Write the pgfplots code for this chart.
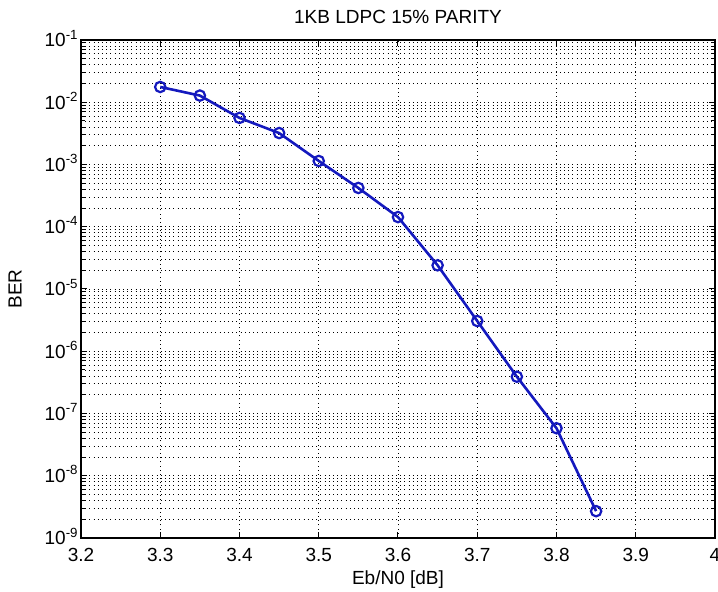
\documentclass[border=0pt]{standalone}
\usepackage{pgfplots}
\pgfplotsset{compat=1.18}
\usepackage{fontspec}
\setmainfont{Liberation Sans}

\definecolor{berblue}{RGB}{20,25,190}

\pgfplotstableread{
ebn0  ber
3.30  1.76e-2
3.35  1.28e-2
3.40  5.6e-3
3.45  3.2e-3
3.50  1.14e-3
3.55  4.2e-4
3.60  1.43e-4
3.65  2.4e-5
3.70  3.06e-6
3.75  3.9e-7
3.80  5.8e-8
3.85  2.7e-9
}\berdata

\begin{document}
\begin{tikzpicture}
\useasboundingbox (-40.5pt,-27pt) rectangle (318.5pt,269pt);
\begin{axis}[
    scale only axis,
    width=317pt,
    height=249pt,
    ymode=log,
    xmin=3.2, xmax=4,
    ymin=1e-9, ymax=1e-1,
    xtick={3.2,3.3,3.4,3.5,3.6,3.7,3.8,3.9,4},
    ytick={1e-9,1e-8,1e-7,1e-6,1e-5,1e-4,1e-3,1e-2,1e-1},
    yticklabels={10\textsuperscript{-9},10\textsuperscript{-8},10\textsuperscript{-7},10\textsuperscript{-6},10\textsuperscript{-5},10\textsuperscript{-4},10\textsuperscript{-3},10\textsuperscript{-2},10\textsuperscript{-1}},
    minor ytick={2e-9,3e-9,4e-9,5e-9,6e-9,7e-9,8e-9,9e-9,
                 2e-8,3e-8,4e-8,5e-8,6e-8,7e-8,8e-8,9e-8,
                 2e-7,3e-7,4e-7,5e-7,6e-7,7e-7,8e-7,9e-7,
                 2e-6,3e-6,4e-6,5e-6,6e-6,7e-6,8e-6,9e-6,
                 2e-5,3e-5,4e-5,5e-5,6e-5,7e-5,8e-5,9e-5,
                 2e-4,3e-4,4e-4,5e-4,6e-4,7e-4,8e-4,9e-4,
                 2e-3,3e-3,4e-3,5e-3,6e-3,7e-3,8e-3,9e-3,
                 2e-2,3e-2,4e-2,5e-2,6e-2,7e-2,8e-2,9e-2},
    xmajorgrids=true,
    ymajorgrids=true,
    yminorgrids=true,
    major grid style={black, line width=0.4pt, dash pattern=on 0.5pt off 1.6pt},
    minor grid style={black, line width=0.4pt, dash pattern=on 0.5pt off 1.6pt},
    tick align=inside,
    major tick length=3pt,
    minor tick length=1.8pt,
    tick style={black, line width=0.5pt},
    axis line style={black, line width=0.6pt},
    font=\fontsize{9.5}{11}\selectfont,
    ticklabel style={font=\fontsize{9.5}{11}\selectfont},
    xticklabel style={/pgf/number format/assume math mode=true, anchor=base, yshift=-12pt},
    yticklabel style={anchor=base east, yshift=-3.4pt, xshift=-1pt, inner sep=0pt},
    title={1KB LDPC 15\% PARITY},
    title style={at={(axis description cs:0.5,1)}, anchor=base, yshift=2pt, inner sep=0pt},
    xlabel={Eb/N0 [dB]},
    xlabel style={at={(axis description cs:0.5,0)}, anchor=base, yshift=-23.5pt, inner sep=0pt},
    ylabel={BER},
    ylabel style={at={([xshift=-33pt]axis description cs:0,0.5)}, anchor=center, rotate=0, inner sep=0pt},
]
\addplot[color=berblue, line width=1.3pt, mark=o, mark size=2.6pt,
         mark options={line width=1.1pt}] table[x=ebn0, y=ber] {\berdata};
\end{axis}
\end{tikzpicture}
\end{document}
